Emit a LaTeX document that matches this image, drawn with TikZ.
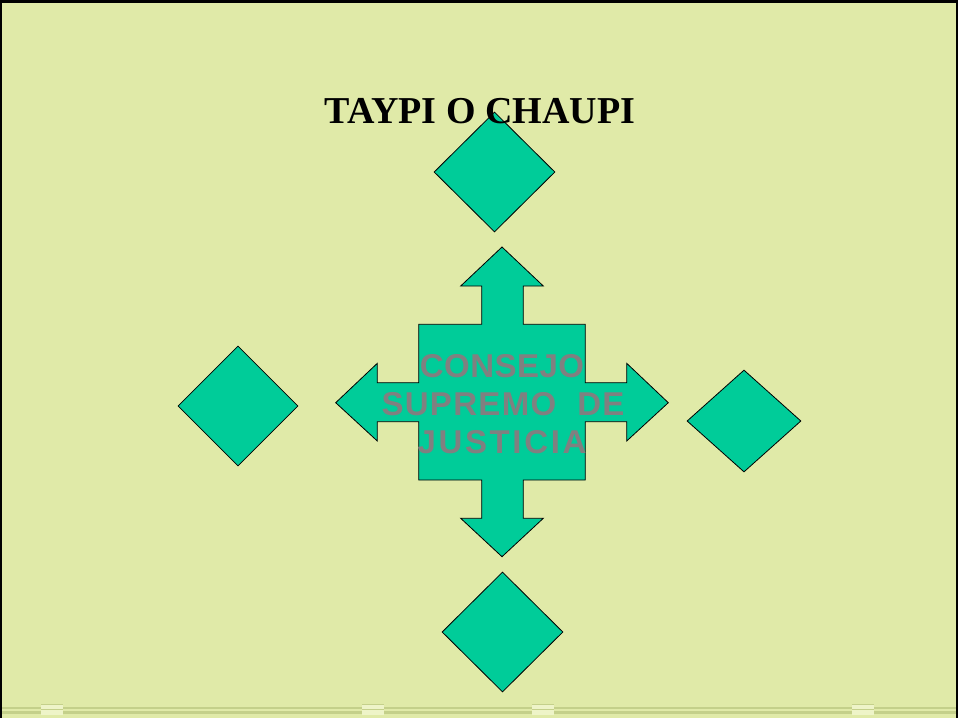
\documentclass[tikz,border=0pt]{standalone}
\usepackage{fontspec}
\setmainfont{Liberation Serif}
\newfontfamily\arialb{Liberation Sans}
\usetikzlibrary{shapes.geometric}
\definecolor{bgc}{RGB}{224,234,168}
\definecolor{grn}{RGB}{0,204,153}
\definecolor{txtgray}{RGB}{128,128,128}
\definecolor{stripe}{RGB}{196,208,138}
\definecolor{stripelt}{RGB}{238,244,200}
\tikzset{
  dia/.style={shape=diamond, draw=black, fill=grn, line width=0.8pt, inner sep=0pt},
  crosstxt/.style={anchor=base, text=txtgray, font=\arialb\bfseries\fontsize{33}{38}\selectfont, inner sep=0pt},
}
\begin{document}
\begin{tikzpicture}[x=1pt,y=-1pt]
\useasboundingbox (0,0) rectangle (958,718);
\fill[bgc] (0,0) rectangle (958,718);
% frame
\fill[black] (0,0) rectangle (958,3);
\fill[black] (0,0) rectangle (2,718);
\fill[black] (956,0) rectangle (958,718);
% bottom stripes
\draw[stripe, line width=2.2pt] (2,708) -- (956,708);
\draw[stripe, line width=2.2pt] (2,712.5) -- (956,712.5);
\foreach \bx in {41,362,532,852} {
  \fill[stripelt] (\bx,704.5) rectangle ++(22,10.5);
  \draw[stripe, line width=1pt] (\bx,704.5) -- ++(22,0);
  \draw[stripe, line width=1pt] (\bx,709.8) -- ++(22,0);
}
% diamonds
\node[dia, minimum width=121pt, minimum height=120pt] (dtop) at (494.5,172) {};
\node[dia, minimum width=120pt, minimum height=120pt] (dleft) at (238,406) {};
\node[dia, minimum width=114pt, minimum height=102pt] (dright) at (744,421) {};
\node[dia, minimum width=121pt, minimum height=120pt] (dbot) at (502.5,632) {};
% title
\node[anchor=base, font=\bfseries\fontsize{38}{44}\selectfont, inner sep=0pt] (title) at (480,123) {TAYPI O CHAUPI};
% cross arrow
\draw[fill=grn, line width=0.8pt, line join=miter]
 (502,247) -- (543.3,286) -- (523.3,286) -- (523.3,324.3) -- (585.3,324.3)
 -- (585.3,382.7) -- (626.7,382.7) -- (626.7,363.3) -- (668.3,402.7)
 -- (626.7,441) -- (626.7,421.7) -- (585.3,421.7) -- (585.3,480)
 -- (523.3,480) -- (523.3,518.3) -- (543.3,518.3) -- (502,556.7)
 -- (460.7,518.3) -- (481.7,518.3) -- (481.7,480) -- (418.7,480)
 -- (418.7,421.7) -- (377.3,421.7) -- (377.3,441) -- (335.7,402.7)
 -- (377.3,363.3) -- (377.3,382.7) -- (418.7,382.7) -- (418.7,324.3)
 -- (481.7,324.3) -- (481.7,286) -- (460.7,286) -- cycle;
\node[crosstxt] (t1) at (502,377) {\addfontfeature{LetterSpace=1.5}CONSEJO};
\node[crosstxt] (t2) at (503,415.7) {\addfontfeature{LetterSpace=4}SUPREMO\ \ DE};
\node[crosstxt] (t3) at (502,453) {\addfontfeature{LetterSpace=8}JUSTICIA};
\end{tikzpicture}
\end{document}
